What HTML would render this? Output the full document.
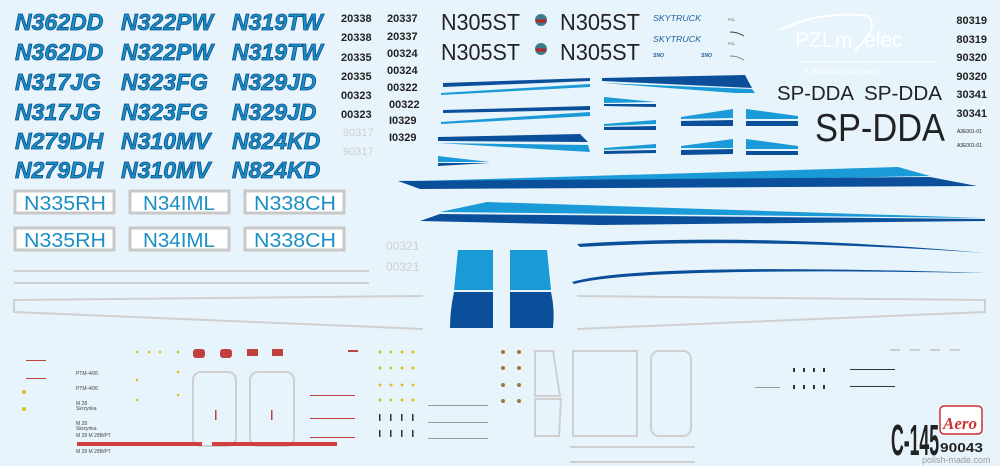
<!DOCTYPE html>
<html><head><meta charset="utf-8"><style>
html,body{margin:0;padding:0;background:#e8f4fc;width:1000px;height:466px;overflow:hidden}
svg{display:block}
.reg{font-family:"Liberation Sans",sans-serif;font-weight:bold;font-style:italic;font-size:23px;fill:#1a8fc6;stroke:#0b4f8a;stroke-width:0.8}
.box{font-family:"Liberation Sans",sans-serif;font-size:20px;fill:#1a8fc6}
.num{font-family:"Liberation Sans",sans-serif;font-weight:bold;font-size:11px;fill:#222}
.blk{font-family:"Liberation Sans",sans-serif;fill:#222}
</style></head><body>
<svg width="1000" height="466" viewBox="0 0 1000 466" xmlns="http://www.w3.org/2000/svg">
<rect width="1000" height="466" fill="#e8f4fc"/>
<g class="reg">
<text x="15" y="30">N362DD</text><text x="121" y="30">N322PW</text><text x="232" y="30">N319TW</text>
<text x="15" y="60">N362DD</text><text x="121" y="60">N322PW</text><text x="232" y="60">N319TW</text>
<text x="15" y="90">N317JG</text><text x="121" y="90">N323FG</text><text x="232" y="90">N329JD</text>
<text x="15" y="120">N317JG</text><text x="121" y="120">N323FG</text><text x="232" y="120">N329JD</text>
<text x="15" y="149">N279DH</text><text x="121" y="149">N310MV</text><text x="232" y="149">N824KD</text>
<text x="15" y="178">N279DH</text><text x="121" y="178">N310MV</text><text x="232" y="178">N824KD</text>
</g>
<g fill="#fff" stroke="#c8c8c8" stroke-width="3">
<rect x="15" y="191" width="99" height="22"/><rect x="130" y="191" width="99" height="22"/><rect x="245" y="191" width="99" height="22"/>
<rect x="15" y="228" width="99" height="22"/><rect x="130" y="228" width="99" height="22"/><rect x="245" y="228" width="99" height="22"/>
</g>
<g class="box">
<text x="24" y="210" textLength="82" lengthAdjust="spacingAndGlyphs">N335RH</text><text x="143" y="210" textLength="72" lengthAdjust="spacingAndGlyphs">N34IML</text><text x="254" y="210" textLength="82" lengthAdjust="spacingAndGlyphs">N338CH</text>
<text x="24" y="247" textLength="82" lengthAdjust="spacingAndGlyphs">N335RH</text><text x="143" y="247" textLength="72" lengthAdjust="spacingAndGlyphs">N34IML</text><text x="254" y="247" textLength="82" lengthAdjust="spacingAndGlyphs">N338CH</text>
</g>
<g class="num">
<text x="341" y="22">20338</text><text x="387" y="22">20337</text>
<text x="341" y="41">20338</text><text x="387" y="40">20337</text>
<text x="341" y="61">20335</text><text x="387" y="57">00324</text>
<text x="341" y="80">20335</text><text x="387" y="74">00324</text>
<text x="341" y="99">00323</text><text x="387" y="91">00322</text>
<text x="341" y="118">00323</text><text x="389" y="108">00322</text>
<text x="389" y="124">I0329</text><text x="389" y="141">I0329</text>
</g>
<g class="num" style="fill:#cfcfcf;font-weight:normal"><text x="343" y="136">90317</text><text x="343" y="155">90317</text>
<text x="386" y="250" style="font-size:12px">00321</text><text x="386" y="271" style="font-size:12px">00321</text></g>
<g class="blk" font-size="23">
<text x="441" y="30" textLength="79" lengthAdjust="spacingAndGlyphs">N305ST</text><text x="560" y="30" textLength="80" lengthAdjust="spacingAndGlyphs">N305ST</text>
<text x="441" y="60" textLength="79" lengthAdjust="spacingAndGlyphs">N305ST</text><text x="560" y="60" textLength="80" lengthAdjust="spacingAndGlyphs">N305ST</text>
</g>
<circle cx="541" cy="20" r="6" fill="#3a7a8a"/><circle cx="541" cy="49" r="6" fill="#3a7a8a"/>
<path d="M536 21h10M536 50h10" stroke="#b22" stroke-width="3"/>
<g font-family="Liberation Sans,sans-serif" font-style="italic" fill="#1a5fa0" font-size="8">
<text x="653" y="21" textLength="48" lengthAdjust="spacingAndGlyphs">SKYTRUCK</text><text x="653" y="42" textLength="48" lengthAdjust="spacingAndGlyphs">SKYTRUCK</text>
<text x="653" y="57" font-size="5" font-weight="bold">SNO</text><text x="701" y="57" font-size="5" font-weight="bold">SNO</text></g>
<g font-family="Liberation Sans,sans-serif" font-size="4" fill="#555"><text x="728" y="21">PZL</text><text x="728" y="45">PZL</text></g>
<path d="M730 32 A26 26 0 0 1 744 36" stroke="#444" fill="none"/>
<path d="M730 56 A26 26 0 0 1 744 60" stroke="#444" fill="none" opacity=".6"/>
<path d="M780 30 Q820 10 870 16" stroke="#fff" stroke-width="2" fill="none"/>
<text x="795" y="47" font-family="Liberation Sans,sans-serif" font-size="21" fill="#fff">PZL</text>
<text x="835" y="47" font-family="Liberation Sans,sans-serif" font-size="21" fill="#fff">m</text>
<text x="864" y="47" font-family="Liberation Sans,sans-serif" font-size="21" fill="#fff">elec</text>
<path d="M855 50 Q880 28 868 16" stroke="#fff" stroke-width="2" fill="none"/>
<line x1="800" y1="62" x2="935" y2="62" stroke="#fff"/>
<text x="804" y="74" font-family="Liberation Sans,sans-serif" font-size="8" fill="#fff">A Sikorsky Company</text>
<g class="num" font-size="12" text-anchor="end"><text x="987" y="24">80319</text><text x="987" y="43">80319</text><text x="987" y="61">90320</text><text x="987" y="80">90320</text><text x="987" y="98">30341</text><text x="987" y="117">30341</text>
<text x="982" y="133" font-size="5" font-weight="normal">A3E001-01</text><text x="982" y="147" font-size="5" font-weight="normal">A3E001-01</text></g>
<g class="blk"><text x="777" y="100" font-size="20" textLength="77" lengthAdjust="spacingAndGlyphs">SP-DDA</text><text x="864" y="100" font-size="20" textLength="78" lengthAdjust="spacingAndGlyphs">SP-DDA</text>
<text x="815" y="141" font-size="39" textLength="130" lengthAdjust="spacingAndGlyphs">SP-DDA</text></g>
<g>
<path d="M443 83 L590 78 L590 81 L443 87Z" fill="#0b4f9a"/><path d="M441 93 L590 84 L590 87 L441 95Z" fill="#1a9ad6"/>
<path d="M443 110 L590 106 L590 110 L443 113Z" fill="#0b4f9a"/><path d="M441 122 L590 112 L590 116 L441 124Z" fill="#1a9ad6"/>
<path d="M438 137 L580 134 L588 142 L438 141Z" fill="#0b4f9a"/><path d="M438 143 L588 145 L590 152 Z" fill="#1a9ad6"/>
<path d="M438 156 L490 162 L438 162Z" fill="#1a9ad6"/><path d="M438 163 L490 163 L438 166Z" fill="#0b4f9a"/>
<path d="M602 78 L745 75 L752 88 L602 81Z" fill="#0b4f9a"/><path d="M602 83 L752 89 L755 93 L735 93Z" fill="#1a9ad6"/>
<path d="M604 97 L656 102 L604 103Z" fill="#1a9ad6"/><path d="M604 104 L656 104 L656 107 L604 106Z" fill="#0b4f9a"/>
<path d="M604 124 L656 120 L656 124 L604 126Z" fill="#1a9ad6"/><path d="M604 127 L656 126 L656 130 L604 130Z" fill="#0b4f9a"/>
<path d="M604 148 L656 144 L656 148 L604 150Z" fill="#1a9ad6"/><path d="M604 151 L656 150 L656 153 L604 154Z" fill="#0b4f9a"/>
<path d="M681 117 L733 109 L733 118 L681 119Z" fill="#1a9ad6"/><path d="M681 121 L733 120 L733 126 L681 126Z" fill="#0b4f9a"/>
<path d="M746 109 L798 116 L798 119 L746 119Z" fill="#1a9ad6"/><path d="M746 121 L798 121 L798 126 L746 126Z" fill="#0b4f9a"/>
<path d="M681 146 L733 139 L733 148 L681 148Z" fill="#1a9ad6"/><path d="M681 150 L733 149 L733 154 L681 155Z" fill="#0b4f9a"/>
<path d="M746 139 L798 146 L798 149 L746 149Z" fill="#1a9ad6"/><path d="M746 151 L798 151 L798 155 L746 155Z" fill="#0b4f9a"/>
</g>
<path d="M420 181 L898 167 L930 176 L560 183 Z" fill="#1a9ad6"/>
<path d="M398 181 L930 177 L977 186 L420 189 Z" fill="#0b4f9a"/>
<path d="M440 212 L487 202 L985 218 Z" fill="#1a9ad6"/>
<path d="M420 221 L440 214 L985 219 L985 221 L600 225 Z" fill="#0b4f9a"/>
<path d="M577 244 Q750 232 985 253 Q750 237 580 247Z" fill="#0b4f9a"/>
<path d="M572 282 Q640 262 985 273 Q640 267 574 284Z" fill="#0b4f9a"/>
<path d="M458 250 L493 250 L493 290 L454 290Z" fill="#1a9ad6"/><path d="M454 292 L493 292 L493 328 L450 328 Q450 310 454 292Z" fill="#0b4f9a"/>
<path d="M510 250 L547 250 L551 290 L510 290Z" fill="#1a9ad6"/><path d="M510 292 L551 292 Q555 310 553 328 L510 328Z" fill="#0b4f9a"/>
<g stroke="#cfcfcf" stroke-width="2" fill="none">
<line x1="14" y1="271" x2="369" y2="271"/><line x1="14" y1="283" x2="369" y2="283"/>
<path d="M423 296 L14 300 L14 312 L423 329"/>
<path d="M577 296 L985 300 L985 312 L577 329"/>
<rect x="193" y="372" width="43" height="74" rx="8"/>
<rect x="250" y="372" width="44" height="74" rx="8"/>
<rect x="573" y="351" width="64" height="85"/><rect x="651" y="351" width="40" height="85" rx="8"/>
<path d="M535 351 L553 351 L560 396 L535 396Z M535 399 L561 399 L559 436 L535 436Z"/>
<line x1="570" y1="447" x2="695" y2="447"/><line x1="570" y1="462" x2="695" y2="462"/>
<path d="M890 350h10M910 350h10M930 350h10M950 350h10" />
</g>
<g stroke="#d04040" stroke-width="4"><line x1="77" y1="444" x2="202" y2="444"/><line x1="212" y1="444" x2="337" y2="444"/></g>
<g fill="#444" font-family="Liberation Sans,sans-serif" font-size="5">
<text x="76" y="375">PTM-4/06</text><text x="76" y="390">PTM-4/06</text><text x="76" y="405">M 28</text><text x="76" y="410">Skrzynka</text><text x="76" y="425">M 28</text><text x="76" y="430">Skrzynka</text>
<text x="76" y="437">M 28   M 28B/PT</text><text x="76" y="453">M 28   M 28B/PT</text></g>
<g fill="#d8c020">
<circle cx="137" cy="352" r="1.3"/><circle cx="149" cy="352" r="1.3"/><circle cx="160" cy="352" r="1.3"/><circle cx="137" cy="380" r="1.3"/><circle cx="137" cy="400" r="1.3"/><circle cx="178" cy="352" r="1.3"/><circle cx="178" cy="372" r="1.3"/><circle cx="178" cy="395" r="1.3"/>
<circle cx="380" cy="352" r="1.5"/><circle cx="391" cy="352" r="1.5"/><circle cx="402" cy="352" r="1.5"/><circle cx="413" cy="352" r="1.5"/>
<circle cx="380" cy="368" r="1.5"/><circle cx="391" cy="368" r="1.5"/><circle cx="402" cy="368" r="1.5"/><circle cx="413" cy="368" r="1.5"/>
<circle cx="380" cy="385" r="1.5"/><circle cx="391" cy="385" r="1.5"/><circle cx="402" cy="385" r="1.5"/><circle cx="413" cy="385" r="1.5"/>
<circle cx="380" cy="400" r="1.5"/><circle cx="391" cy="400" r="1.5"/><circle cx="402" cy="400" r="1.5"/><circle cx="413" cy="400" r="1.5"/>
<circle cx="24" cy="392" r="2"/><circle cx="24" cy="409" r="2"/>
</g>
<g fill="#333"><rect x="379" y="414" width="1.5" height="7"/><rect x="390" y="414" width="1.5" height="7"/><rect x="401" y="414" width="1.5" height="7"/><rect x="412" y="414" width="1.5" height="7"/>
<rect x="379" y="430" width="1.5" height="7"/><rect x="390" y="430" width="1.5" height="7"/><rect x="401" y="430" width="1.5" height="7"/><rect x="412" y="430" width="1.5" height="7"/></g>
<g fill="#9a7a30"><circle cx="503" cy="352" r="2"/><circle cx="519" cy="352" r="2"/><circle cx="503" cy="368" r="2"/><circle cx="519" cy="368" r="2"/><circle cx="503" cy="385" r="2"/><circle cx="519" cy="385" r="2"/><circle cx="503" cy="401" r="2"/><circle cx="519" cy="401" r="2"/></g>
<g fill="#c04040"><rect x="193" y="349" width="12" height="9" rx="3"/><rect x="220" y="349" width="12" height="9" rx="3"/><rect x="247" y="349" width="11" height="7"/><rect x="272" y="349" width="11" height="7"/><rect x="215" y="410" width="1.5" height="10"/><rect x="271" y="410" width="1.5" height="10"/>
<rect x="310" y="395" width="45" height="1"/><rect x="310" y="418" width="45" height="1"/><rect x="310" y="437" width="45" height="1"/><rect x="348" y="350" width="10" height="2"/><rect x="26" y="360" width="20" height="1"/><rect x="26" y="378" width="20" height="1"/></g>
<g fill="#999"><rect x="428" y="405" width="60" height="1"/><rect x="428" y="422" width="60" height="1"/><rect x="428" y="438" width="60" height="1"/><rect x="755" y="387" width="25" height="1"/></g>
<g fill="#333"><rect x="793" y="368" width="2" height="4"/><rect x="803" y="368" width="2" height="4"/><rect x="813" y="368" width="2" height="4"/><rect x="823" y="368" width="2" height="4"/><rect x="793" y="385" width="2" height="4"/><rect x="803" y="385" width="2" height="4"/><rect x="813" y="385" width="2" height="4"/><rect x="823" y="385" width="2" height="4"/>
<rect x="850" y="369" width="45" height="1"/><rect x="850" y="386" width="45" height="1"/></g>
<text x="891" y="455" font-family="Liberation Sans,sans-serif" font-weight="bold" font-size="44" fill="#222" textLength="48" lengthAdjust="spacingAndGlyphs">C-145</text>
<rect x="940" y="406" width="42" height="28" rx="4" fill="#fff" stroke="#c33" stroke-width="1.5"/>
<text x="943" y="429" font-family="Liberation Serif,serif" font-style="italic" font-weight="bold" font-size="17" fill="#c33">Aero</text>
<text x="940" y="452" font-family="Liberation Sans,sans-serif" font-weight="bold" font-size="13" fill="#222" textLength="43" lengthAdjust="spacingAndGlyphs">90043</text>
<text x="922" y="463" font-family="Liberation Sans,sans-serif" font-size="9" fill="#999">polish-made.com</text>
</svg>
</body></html>
